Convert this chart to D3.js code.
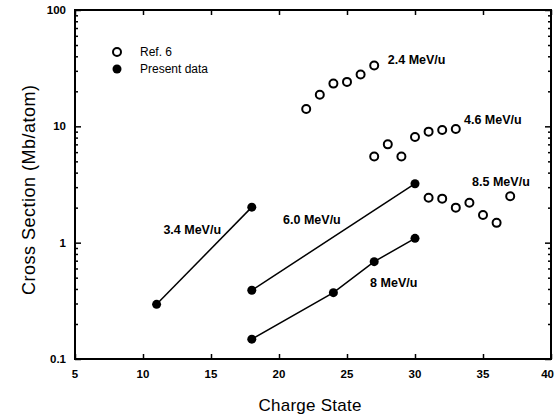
<!DOCTYPE html>
<html>
<head>
<meta charset="utf-8">
<script src="https://cdn.jsdelivr.net/npm/d3@7"></script>
<style>
  html, body { margin: 0; padding: 0; background: #fff; overflow: hidden; }
  svg { display: block; font-family: "Liberation Sans", Arial, sans-serif; }
  .tick-label { font-size: 11.5px; font-weight: bold; }
  .note { font-size: 12.5px; font-weight: bold; }
  .legend-text { font-size: 12px; }
</style>
</head>
<body>
<div id="chart"></div>
<script>
// Ref. 6 data (open circles)
const ref24 = [[22, 14.1], [23, 18.7], [24, 23.3], [25, 24.1], [26, 27.9], [27, 33.3]];
const ref46 = [[27, 5.5], [28, 7.0], [29, 5.5], [30, 8.1], [31, 9.0], [32, 9.3], [33, 9.5]];
const ref85 = [[31, 2.43], [32, 2.39], [33, 2.0], [34, 2.2], [35, 1.73], [36, 1.48], [37, 2.51]];

// Present data (filled circles + lines)
const present34 = [[11, 0.295], [18, 2.02]];
const present60 = [[18, 0.39], [30, 3.21]];
const present8 = [[18, 0.148], [24, 0.372], [27, 0.687], [30, 1.09]];

const xTicks = [5, 10, 15, 20, 25, 30, 35, 40];
const yTicks = [0.1, 1, 10, 100];

const labels = [
  { text: "2.4 MeV/u", x: 28.0, y: 37.4 },
  { text: "4.6 MeV/u", x: 33.6, y: 11.4 },
  { text: "8.5 MeV/u", x: 34.2, y: 3.38 },
  { text: "3.4 MeV/u", x: 11.5, y: 1.30 },
  { text: "6.0 MeV/u", x: 20.3, y: 1.58 },
  { text: "8 MeV/u", x: 26.7, y: 0.456 }
];

const width = 555;
const height = 420;
const margin = { top: 10, right: 4, bottom: 61, left: 75 };
const innerWidth = width - margin.left - margin.right;
const innerHeight = height - margin.top - margin.bottom;

const svg = d3.select("#chart")
  .append("svg")
  .attr("width", width)
  .attr("height", height);

const g = svg.append("g")
  .attr("transform", `translate(${margin.left},${margin.top})`);

const x = d3.scaleLinear().domain([5, 40]).range([0, innerWidth]);
const y = d3.scaleLog().domain([0.1, 100]).range([innerHeight, 0]);

// minor log ticks
const minorY = [];
[0.1, 1, 10].forEach(d => {
  for (let k = 2; k <= 9; k++) minorY.push(d * k);
});

// axes: inward ticks only, labels drawn separately
const axisStyle = sel => {
  sel.select(".domain").remove();
  sel.selectAll("text").remove();
  sel.selectAll("line").attr("stroke", "#000").attr("stroke-width", 1.5);
};

g.append("g").attr("transform", `translate(0,${innerHeight})`)
  .call(d3.axisBottom(x).tickValues(xTicks).tickSize(-5))
  .call(axisStyle);
g.append("g")
  .call(d3.axisTop(x).tickValues(xTicks).tickSize(-5))
  .call(axisStyle);
g.append("g")
  .call(d3.axisLeft(y).tickValues(yTicks).tickSize(-6))
  .call(axisStyle);
g.append("g")
  .call(d3.axisLeft(y).tickValues(minorY).tickSize(-3))
  .call(axisStyle);
g.append("g").attr("transform", `translate(${innerWidth},0)`)
  .call(d3.axisRight(y).tickValues(yTicks).tickSize(-6))
  .call(axisStyle);
g.append("g").attr("transform", `translate(${innerWidth},0)`)
  .call(d3.axisRight(y).tickValues(minorY).tickSize(-3))
  .call(axisStyle);

// frame
g.append("rect")
  .attr("width", innerWidth)
  .attr("height", innerHeight)
  .attr("fill", "none")
  .attr("stroke", "#000")
  .attr("stroke-width", 2);

// tick labels
g.selectAll(".xl").data(xTicks).join("text")
  .attr("class", "tick-label xl")
  .attr("x", d => d === 40 ? innerWidth + 3 : x(d))
  .attr("y", innerHeight + 19)
  .attr("text-anchor", d => d === 40 ? "end" : "middle")
  .text(d => d);

g.selectAll(".yl").data(yTicks).join("text")
  .attr("class", "tick-label yl")
  .attr("x", -9)
  .attr("y", d => y(d) + 4)
  .attr("text-anchor", "end")
  .text(d => d);

// axis titles
svg.append("text")
  .attr("x", 310)
  .attr("y", 411)
  .attr("text-anchor", "middle")
  .style("font-size", "17px")
  .attr("textLength", 103)
  .text("Charge State");

svg.append("text")
  .attr("transform", "translate(35,190) rotate(-90)")
  .attr("text-anchor", "middle")
  .style("font-size", "18px")
  .attr("textLength", 210)
  .text("Cross Section (Mb/atom)");

// lines for present data
const line = d3.line().x(d => x(d[0])).y(d => y(d[1]));
[present34, present60, present8].forEach(s => {
  g.append("path")
    .datum(s)
    .attr("d", line)
    .attr("fill", "none")
    .attr("stroke", "#000")
    .attr("stroke-width", 1.5);
});

// open circles
g.selectAll(".open").data([...ref24, ...ref46, ...ref85]).join("circle")
  .attr("class", "open")
  .attr("cx", d => x(d[0]))
  .attr("cy", d => y(d[1]))
  .attr("r", 4)
  .attr("fill", "#fff")
  .attr("stroke", "#000")
  .attr("stroke-width", 2);

// filled circles
g.selectAll(".filled").data([...present34, ...present60, ...present8]).join("circle")
  .attr("class", "filled")
  .attr("cx", d => x(d[0]))
  .attr("cy", d => y(d[1]))
  .attr("r", 4.5)
  .attr("fill", "#000");

// labels
g.selectAll(".note").data(labels).join("text")
  .attr("class", "note")
  .attr("x", d => x(d.x))
  .attr("y", d => y(d.y) + 4.5)
  .text(d => d.text);

// legend
const legend = svg.append("g").attr("transform", "translate(117,52)");
legend.append("circle").attr("r", 4).attr("fill", "#fff").attr("stroke", "#000").attr("stroke-width", 2);
legend.append("text").attr("class", "legend-text").attr("x", 23).attr("y", 4).text("Ref. 6");
legend.append("circle").attr("cy", 17).attr("r", 4.5).attr("fill", "#000");
legend.append("text").attr("class", "legend-text").attr("x", 23).attr("y", 21).text("Present data");
</script>
</body>
</html>
